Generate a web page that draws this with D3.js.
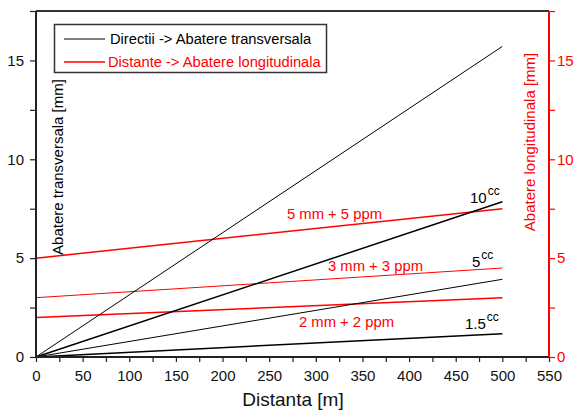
<!DOCTYPE html>
<html>
<head>
<meta charset="utf-8">
<script src="https://cdn.jsdelivr.net/npm/d3@7"></script>
<style>
  body { margin: 0; background: white; }
  svg { font-family: "Liberation Sans", Arial, sans-serif; }
</style>
</head>
<body>
<script>
// distances at which every line is evaluated [m]
var distances = [0, 500];

// transversal deviation from direction error (cc) [mm]
var dirLabels = ["20", "10", "5", "1.5"];
var dirValues = [[0, 15.71], [0, 7.85], [0, 3.93], [0, 1.18]];
var dirWidths = [1, 1.5, 1, 1.5];

// longitudinal deviation from distance error [mm]
var distLabels = ["5 mm + 5 ppm", "3 mm + 3 ppm", "2 mm + 2 ppm"];
var distValues = [[5, 7.5], [3, 4.5], [2, 3]];
var distWidths = [1.5, 1, 1.5];

var xTicks = d3.range(0, 551, 25);
var yTicks = d3.range(0, 17.6, 2.5);

var width = 576,
    height = 412;

var svg = d3.select("body").append("svg")
  .attr("width", width)
  .attr("height", height);

var x = d3.scaleLinear().domain([0, 550]).range([36, 549]);
var y = d3.scaleLinear().domain([0, 17.5]).range([357, 11]);

var line = d3.line()
  .x(function(d, i) { return x(distances[i]); })
  .y(function(d) { return y(d); });

// lines
svg.append("g").selectAll("path")
  .data(distValues)
  .enter().append("path")
  .attr("d", line)
  .style("fill", "none")
  .style("stroke", "#ff0000")
  .style("stroke-width", function(d, i) { return distWidths[i]; });

svg.append("g").selectAll("path")
  .data(dirValues)
  .enter().append("path")
  .attr("d", line)
  .style("fill", "none")
  .style("stroke", "black")
  .style("stroke-width", function(d, i) { return dirWidths[i]; });

// axes
function fmt(step) {
  return function(d) { return d % step === 0 ? d : ""; };
}

var xAxis = svg.append("g")
  .attr("transform", "translate(0," + y(0) + ")")
  .call(d3.axisBottom(x).tickValues(xTicks).tickSize(5).tickPadding(8).tickFormat(fmt(50)));

var yAxis = svg.append("g")
  .attr("transform", "translate(" + x(0) + ",0)")
  .call(d3.axisLeft(y).tickValues(yTicks).tickSize(6).tickPadding(6).tickFormat(fmt(5)));

var yAxisR = svg.append("g")
  .attr("transform", "translate(" + x(550) + ",0)")
  .call(d3.axisRight(y).tickValues(yTicks).tickSize(6).tickPadding(2).tickFormat(fmt(5)));

[xAxis, yAxis, yAxisR].forEach(function(a) {
  a.select(".domain").remove();
  a.selectAll("text").style("font-size", "15px").style("font-family", "Liberation Sans, Arial, sans-serif");
});
xAxis.selectAll("line").style("stroke", "#222").style("stroke-width", 1.2);
yAxis.selectAll("line").style("stroke", "#222").style("stroke-width", 1.2);
xAxis.selectAll("text").attr("fill", "#111");
yAxis.selectAll("text").attr("fill", "#111");
yAxisR.selectAll("line").style("stroke", "#ff0000").style("stroke-width", 1.2);
yAxisR.selectAll("text").attr("fill", "#ff0000");

// frame
svg.append("line").attr("x1", x(0)).attr("x2", x(550)).attr("y1", y(17.5)).attr("y2", y(17.5))
  .style("stroke", "#333").style("stroke-width", 2);
svg.append("line").attr("x1", x(0)).attr("x2", x(550)).attr("y1", y(0)).attr("y2", y(0))
  .style("stroke", "#222").style("stroke-width", 2);
svg.append("line").attr("x1", x(0)).attr("x2", x(0)).attr("y1", y(0)).attr("y2", y(17.5))
  .style("stroke", "#222").style("stroke-width", 2);
svg.append("line").attr("x1", x(550)).attr("x2", x(550)).attr("y1", y(0)).attr("y2", y(17.5))
  .style("stroke", "#ff0000").style("stroke-width", 2);

// axis titles
svg.append("text")
  .attr("x", 293).attr("y", 406)
  .attr("text-anchor", "middle")
  .style("font-size", "19px")
  .attr("fill", "#111")
  .text("Distanta [m]");

svg.append("text")
  .attr("transform", "translate(63,167) rotate(-90)")
  .attr("text-anchor", "middle")
  .style("font-size", "15px")
  .attr("fill", "black")
  .text("Abatere transversala [mm]");

svg.append("text")
  .attr("transform", "translate(535,142) rotate(-90)")
  .attr("text-anchor", "middle")
  .style("font-size", "15px")
  .attr("fill", "#ff0000")
  .text("Abatere longitudinala [mm]");

// line labels
var distLabelPos = [[287, 219], [328, 271], [299, 327]];
svg.append("g").selectAll("text")
  .data(distLabels)
  .enter().append("text")
  .attr("x", function(d, i) { return distLabelPos[i][0]; })
  .attr("y", function(d, i) { return distLabelPos[i][1]; })
  .style("font-size", "14.8px")
  .attr("fill", "#ff0000")
  .text(function(d) { return d; });

var dirLabelPos = [null, [470, 203], [472, 267], [465, 329]];
dirLabels.forEach(function(lab, i) {
  if (!dirLabelPos[i]) return;
  var t = svg.append("text")
    .attr("x", dirLabelPos[i][0]).attr("y", dirLabelPos[i][1])
    .style("font-size", "15px")
    .attr("fill", "black");
  t.append("tspan").text(lab);
  t.append("tspan").attr("dy", -8).attr("dx", 1).style("font-size", "12px").text("cc");
});

// legend
var legend = svg.append("g");
legend.append("rect")
  .attr("x", 54.5).attr("y", 24.5).attr("width", 272).attr("height", 48)
  .style("fill", "white").style("stroke", "#333").style("stroke-width", 1.5);

var legendItems = [
  { text: "Directii -> Abatere transversala", color: "black", w: 1, yy: 39, tx: 110 },
  { text: "Distante -> Abatere longitudinala", color: "#ff0000", w: 1.5, yy: 62, tx: 108 }
];
legendItems.forEach(function(d) {
  legend.append("line")
    .attr("x1", 64).attr("x2", 105).attr("y1", d.yy).attr("y2", d.yy)
    .style("stroke", d.color).style("stroke-width", d.w);
  legend.append("text")
    .attr("x", d.tx).attr("y", d.yy + 5)
    .style("font-size", "14.7px")
    .attr("fill", d.color)
    .text(d.text);
});
</script>
</body>
</html>
